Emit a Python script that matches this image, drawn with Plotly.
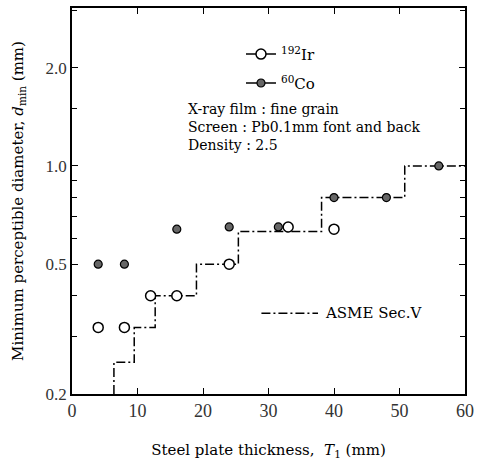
import plotly.graph_objects as go

# Data
ir_x = [4, 8, 12, 16, 24, 33, 40]
ir_y = [0.32, 0.32, 0.40, 0.40, 0.50, 0.65, 0.64]
co_x = [4, 8, 16, 24, 31.5, 40, 48, 56]
co_y = [0.50, 0.50, 0.64, 0.65, 0.65, 0.80, 0.80, 1.00]
asme_x = [6.4, 6.4, 9.5, 9.5, 12.7, 12.7, 19.0, 19.0, 25.4, 25.4, 38.1, 38.1, 50.8, 50.8, 60]
asme_y = [0.2, 0.25, 0.25, 0.32, 0.32, 0.40, 0.40, 0.50, 0.50, 0.63, 0.63, 0.80, 0.80, 1.0, 1.0]
x_ticks = [0, 10, 20, 30, 40, 50, 60]
y_ticks = [0.2, 0.5, 1.0, 2.0]
y_tick_text = ["0.2", "0.5", "1.0", "2.0"]
y_minor = [0.3, 0.4, 0.6, 0.7, 0.8, 0.9, 1.5, 3.0]

SERIF = "DejaVu Serif"
DASH = "9px,3px,2px,3px"
fig = go.Figure()

fig.add_trace(go.Scatter(x=asme_x, y=asme_y, mode="lines",
                         line=dict(color="black", width=1.5, dash=DASH),
                         showlegend=False))
fig.add_trace(go.Scatter(x=ir_x, y=ir_y, mode="markers",
                         marker=dict(symbol="circle", size=10, color="white",
                                     line=dict(color="black", width=1.5)),
                         showlegend=False))
fig.add_trace(go.Scatter(x=co_x, y=co_y, mode="markers",
                         marker=dict(symbol="circle", size=8, color="#666666",
                                     line=dict(color="black", width=1.2)),
                         showlegend=False))

# legend entries
fig.add_trace(go.Scatter(x=[None], y=[None], mode="lines+markers", name="<sup>192</sup>Ir",
                         marker=dict(symbol="circle", size=10, color="white",
                                     line=dict(color="black", width=1.5)),
                         line=dict(color="black", width=1.5), legend="legend"))
fig.add_trace(go.Scatter(x=[None], y=[None], mode="lines+markers", name="<sup>60</sup>Co",
                         marker=dict(symbol="circle", size=8, color="#666666",
                                     line=dict(color="black", width=1.2)),
                         line=dict(color="black", width=1.5), legend="legend2"))

leg_common = dict(bgcolor="rgba(0,0,0,0)", borderwidth=0, xanchor="left", yanchor="middle",
                  font=dict(family=SERIF, size=15, color="black"))

fig.update_layout(
    width=480, height=463,
    margin=dict(l=72, r=12, t=6, b=69),
    paper_bgcolor="white", plot_bgcolor="white",
    legend=dict(x=0.43, y=0.88, **leg_common),
    legend2=dict(x=0.43, y=0.805, **leg_common),
    shapes=[dict(type="line", xref="paper", yref="paper", x0=0.482, x1=0.626,
                 y0=0.209, y1=0.209, line=dict(color="black", width=1.5, dash=DASH))],
    annotations=[
        dict(text="X-ray film : fine grain<br>Screen : Pb0.1mm font and back<br>Density : 2.5",
             xref="paper", yref="paper", x=0.29, y=0.765, xanchor="left", yanchor="top",
             align="left", showarrow=False,
             font=dict(family=SERIF, size=14, color="black")),
        dict(text="ASME Sec.V", xref="paper", yref="paper", x=0.638, y=0.209,
             xanchor="left", yanchor="middle", showarrow=False,
             font=dict(family=SERIF, size=15, color="black")),
    ],
)

fig.update_xaxes(
    range=[0, 60], tickvals=x_ticks, ticks="inside", ticklen=6, tickwidth=1.2,
    tickcolor="black", showline=True, linecolor="black", linewidth=1.5, mirror="ticks",
    showgrid=False, zeroline=False,
    tickfont=dict(family="Liberation Serif", size=18, color="#333333"),
    title=dict(text="Steel plate thickness,  <i>T</i><sub>1</sub> (mm)",
               font=dict(family=SERIF, size=15, color="black"), standoff=24),
)
fig.update_yaxes(
    type="log", range=[-0.699, 0.484], tickvals=y_ticks, ticktext=y_tick_text,
    ticks="inside", ticklen=6, tickwidth=1.2, tickcolor="black",
    minor=dict(tickvals=y_minor, ticks="inside", ticklen=5, tickcolor="black", showgrid=False),
    showline=True, linecolor="black", linewidth=1.5, mirror="ticks",
    showgrid=False, zeroline=False,
    tickfont=dict(family="Liberation Serif", size=17, color="#333333"),
    title=dict(text="Minimum perceptible diameter, <i>d</i><sub>min</sub> (mm)",
               font=dict(family=SERIF, size=15, color="black"), standoff=18),
)

fig.write_html("out.html", config={"displayModeBar": False},
               post_script="document.body.style.margin='0';")
